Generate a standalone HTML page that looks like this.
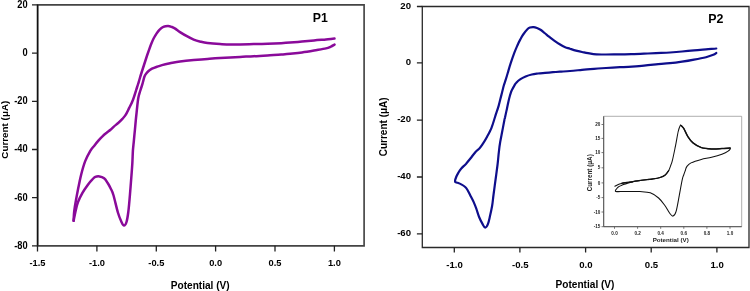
<!DOCTYPE html>
<html><head><meta charset="utf-8"><title>Cyclic voltammograms P1 and P2</title>
<style>
html,body{margin:0;padding:0;background:#fff;width:750px;height:291px;overflow:hidden;}
svg{display:block;font-family:"Liberation Sans", sans-serif;will-change:transform;}
</style></head><body>
<svg width="750" height="291" viewBox="0 0 750 291">
<path d="M37.6,4.9H364.1V245.8H37.6Z" fill="none" stroke="#444" stroke-width="1.65"/>
<path d="M37.6,4.9V245.8" fill="none" stroke="#111" stroke-width="1.4"/>
<path d="M32.0,4.9H37.6M32.0,53.1H37.6M32.0,101.3H37.6M32.0,149.5H37.6M32.0,197.6H37.6M32.0,245.8H37.6M37.5,245.8V251.4M96.9,245.8V251.4M156.3,245.8V251.4M215.6,245.8V251.4M275.0,245.8V251.4M334.4,245.8V251.4" fill="none" stroke="#222" stroke-width="1.3"/>
<path d="M422.3,6.5H749.0V247.5H422.3Z" fill="none" stroke="#2a2a2a" stroke-width="1.3"/>
<path d="M416.9,6.5H422.3M416.9,62.9H422.3M416.9,120.1H422.3M416.9,177.0H422.3M416.9,233.8H422.3M454.3,247.5V252.6M519.9,247.5V252.6M585.6,247.5V252.6M651.2,247.5V252.6M716.9,247.5V252.6" fill="none" stroke="#222" stroke-width="1.3"/>
<path d="M603.7,116.3H741.7V226.7H603.7Z" fill="none" stroke="#9a9a9a" stroke-width="0.8"/>
<path d="M603.7,116.3V226.7M603.7,226.7H741.7" fill="none" stroke="#444" stroke-width="0.9"/>
<path d="M601.5,124.5H603.7M601.5,138.4H603.7M601.5,152.6H603.7M601.5,167.8H603.7M601.5,182.9H603.7M601.5,197.6H603.7M601.5,212.0H603.7M601.5,226.7H603.7M614.5,226.7V228.8M637.6,226.7V228.8M660.7,226.7V228.8M683.8,226.7V228.8M706.9,226.7V228.8M730.0,226.7V228.8" fill="none" stroke="#555" stroke-width="0.8"/>
<path d="M334.5,38.6 C333.1,38.7 329.4,39.1 326.0,39.4 C322.6,39.7 318.0,40.0 314.0,40.4 C310.0,40.8 306.0,41.1 302.0,41.5 C298.0,41.9 293.5,42.3 290.0,42.6 C286.5,42.9 284.9,43.0 281.2,43.2 C277.4,43.4 272.1,43.6 267.5,43.7 C262.9,43.9 258.3,44.0 253.7,44.1 C249.1,44.2 243.9,44.3 240.0,44.4 C236.1,44.5 233.3,44.5 230.0,44.5 C226.7,44.5 223.8,44.3 220.0,44.1 C216.2,43.9 210.7,43.5 207.5,43.1 C204.3,42.7 202.9,42.3 200.6,41.7 C198.3,41.1 196.0,40.5 193.7,39.6 C191.4,38.7 189.2,37.5 186.9,36.2 C184.6,35.0 181.9,33.3 180.0,32.1 C178.1,30.9 176.9,29.8 175.6,28.9 C174.3,28.0 173.3,27.5 172.0,27.0 C170.7,26.5 169.4,25.9 168.0,25.9 C166.6,25.9 164.7,26.2 163.3,26.9 C161.9,27.5 160.5,28.7 159.4,29.8 C158.3,30.9 157.5,32.1 156.5,33.6 C155.5,35.1 154.6,36.6 153.6,38.5 C152.6,40.4 151.6,43.0 150.7,45.2 C149.8,47.5 149.1,49.8 148.3,52.0 C147.5,54.2 146.8,56.3 146.1,58.5 C145.4,60.7 144.7,62.8 144.0,65.0 C143.3,67.2 142.6,69.3 141.9,71.5 C141.2,73.7 140.5,75.9 139.9,78.0 C139.3,80.1 138.7,82.0 138.1,84.0 C137.5,86.0 136.8,88.0 136.2,90.0 C135.6,92.0 135.0,94.1 134.3,96.0 C133.7,97.9 133.2,99.5 132.3,101.5 C131.5,103.5 130.3,105.7 129.2,107.9 C128.1,110.1 126.9,112.9 125.8,114.7 C124.7,116.5 123.7,117.5 122.4,118.9 C121.1,120.3 119.6,121.8 118.2,123.0 C116.8,124.2 115.4,125.3 114.1,126.4 C112.8,127.5 111.8,128.7 110.5,129.8 C109.2,130.9 107.7,131.9 106.3,133.1 C104.9,134.2 103.5,135.4 102.2,136.7 C100.9,137.9 99.7,139.1 98.4,140.6 C97.1,142.1 95.8,143.7 94.5,145.4 C93.2,147.1 91.8,148.2 90.3,150.8 C88.8,153.4 86.7,157.2 85.2,161.1 C83.7,165.0 82.2,170.5 81.2,174.5 C80.2,178.5 79.8,180.8 78.9,185.0 C78.0,189.2 76.8,195.6 76.0,200.0 C75.2,204.4 74.6,208.0 74.2,211.5 C73.8,215.0 73.7,219.2 73.6,220.8" fill="none" stroke="#8a0a9a" stroke-width="2.5" stroke-linecap="round" stroke-linejoin="round"/>
<path d="M73.6,220.8 C73.9,219.2 74.9,214.1 75.6,211.0 C76.3,207.9 76.8,205.1 78.0,202.0 C79.2,198.9 80.9,195.6 82.6,192.6 C84.3,189.6 86.7,186.4 88.3,184.2 C89.9,182.0 91.0,180.8 92.2,179.6 C93.4,178.4 94.1,177.4 95.3,176.9 C96.5,176.4 98.0,176.2 99.5,176.4 C101.0,176.6 102.7,177.2 104.1,178.3 C105.5,179.4 106.6,181.3 107.7,183.0 C108.8,184.7 109.8,186.7 110.8,188.7 C111.8,190.7 112.2,191.0 113.4,195.0 C114.6,199.0 116.6,208.0 117.9,212.5 C119.2,217.0 120.5,219.8 121.5,222.0 C122.5,224.2 123.2,225.6 124.0,225.6 C124.8,225.6 125.8,224.3 126.5,222.0 C127.2,219.7 127.7,216.7 128.3,212.0 C128.9,207.3 129.5,200.2 130.0,194.0 C130.5,187.8 131.1,180.3 131.5,175.0 C131.9,169.7 132.2,166.1 132.4,162.0 C132.6,157.9 132.7,154.2 132.9,150.6 C133.2,147.0 133.6,143.7 133.9,140.3 C134.2,136.9 134.6,133.3 134.9,130.0 C135.2,126.7 135.5,123.4 135.8,120.2 C136.1,117.0 136.4,114.3 136.8,110.6 C137.2,106.9 137.7,101.3 138.3,98.0 C138.9,94.7 139.6,93.0 140.2,91.0 C140.8,89.0 141.2,87.8 141.8,86.0 C142.4,84.2 143.1,81.6 143.5,80.0 C143.9,78.4 144.1,77.5 144.5,76.5 C144.9,75.5 145.2,75.0 145.8,74.1 C146.4,73.2 147.3,72.1 148.3,71.2 C149.3,70.3 150.6,69.5 152.0,68.7 C153.4,68.0 155.3,67.3 157.0,66.7 C158.7,66.1 159.8,65.7 162.0,65.1 C164.2,64.5 167.0,63.9 170.0,63.3 C173.0,62.7 176.1,61.9 180.0,61.4 C183.9,60.9 189.1,60.4 193.7,60.0 C198.3,59.6 203.1,59.2 207.5,58.9 C211.9,58.6 214.6,58.4 220.0,58.1 C225.4,57.8 234.4,57.2 240.0,56.9 C245.6,56.6 249.1,56.5 253.7,56.2 C258.3,56.0 262.9,55.7 267.5,55.4 C272.1,55.1 277.4,54.9 281.2,54.6 C284.9,54.3 286.5,54.2 290.0,53.8 C293.5,53.4 298.0,52.9 302.0,52.4 C306.0,51.9 310.0,51.2 314.0,50.5 C318.0,49.8 323.2,49.0 326.0,48.4 C328.8,47.8 329.5,47.2 330.9,46.6 C332.3,46.0 333.9,44.9 334.5,44.6" fill="none" stroke="#8a0a9a" stroke-width="2.5" stroke-linecap="round" stroke-linejoin="round"/>
<path d="M716.3,48.5 C714.6,48.6 709.7,49.1 706.0,49.4 C702.3,49.7 698.0,50.0 694.0,50.4 C690.0,50.8 686.0,51.1 682.0,51.5 C678.0,51.9 674.3,52.2 670.0,52.5 C665.7,52.8 660.3,52.9 656.0,53.1 C651.7,53.3 648.0,53.5 644.0,53.7 C640.0,53.9 636.0,54.1 632.0,54.2 C628.0,54.3 624.3,54.4 620.0,54.4 C615.7,54.4 609.9,54.5 606.0,54.5 C602.1,54.5 599.4,54.6 596.4,54.4 C593.4,54.2 590.4,53.6 588.0,53.2 C585.6,52.8 584.0,52.4 582.0,52.0 C580.0,51.6 578.0,51.1 576.0,50.6 C574.0,50.1 571.8,49.3 570.0,48.7 C568.2,48.1 566.9,47.9 565.2,47.2 C563.5,46.5 561.5,45.4 559.7,44.3 C557.9,43.2 556.0,41.9 554.2,40.6 C552.4,39.3 550.3,37.7 548.7,36.4 C547.1,35.1 546.0,34.1 544.6,33.0 C543.2,31.9 541.8,30.6 540.5,29.8 C539.2,29.0 538.1,28.4 537.0,28.0 C535.9,27.6 534.8,27.2 533.6,27.1 C532.4,27.0 531.0,27.2 530.0,27.6 C529.0,28.0 528.5,28.2 527.4,29.3 C526.3,30.4 524.4,32.8 523.2,34.5 C522.0,36.2 521.2,37.8 520.2,39.6 C519.2,41.4 518.5,42.9 517.5,45.2 C516.5,47.5 515.3,50.2 514.2,53.2 C513.1,56.2 511.8,59.9 510.8,62.9 C509.8,65.9 509.1,68.3 508.3,71.1 C507.5,73.8 506.6,77.0 505.8,79.4 C505.1,81.8 504.5,83.0 503.8,85.5 C503.1,88.0 502.4,91.2 501.5,94.6 C500.6,97.9 499.6,102.4 498.7,105.6 C497.8,108.8 496.8,111.5 496.0,113.9 C495.2,116.3 494.9,117.7 494.1,120.0 C493.4,122.3 492.6,125.0 491.5,127.8 C490.4,130.6 488.6,133.9 487.2,136.5 C485.8,139.1 484.4,141.5 483.1,143.4 C481.8,145.3 480.9,146.8 479.6,148.2 C478.3,149.6 477.0,150.2 475.5,151.9 C474.0,153.6 472.0,156.5 470.4,158.5 C468.8,160.5 467.4,162.2 465.9,163.9 C464.3,165.6 462.4,167.2 461.1,168.7 C459.8,170.2 459.1,171.5 458.3,172.9 C457.5,174.3 456.7,175.7 456.2,177.0 C455.7,178.3 455.2,179.7 455.1,180.5 C455.0,181.3 454.9,181.6 455.3,182.0 C455.7,182.4 456.5,182.4 457.6,182.8 C458.7,183.2 460.4,183.9 461.7,184.6 C463.0,185.3 464.2,186.1 465.2,187.0 C466.2,187.9 466.7,188.7 467.5,190.0 C468.3,191.3 469.1,193.0 470.1,195.0 C471.1,197.0 472.6,199.6 473.6,201.9 C474.6,204.2 475.4,206.2 476.3,208.7 C477.2,211.2 478.1,214.5 479.1,217.0 C480.1,219.5 481.5,222.1 482.5,223.9 C483.5,225.7 484.3,227.6 485.2,227.6 C486.1,227.6 487.2,225.9 488.0,223.9 C488.8,221.9 489.4,218.6 490.1,215.6 C490.8,212.6 491.5,209.4 492.1,206.0 C492.7,202.6 492.9,199.3 493.5,195.0 C494.1,190.7 494.8,185.0 495.5,180.0 C496.2,175.0 496.9,169.7 497.5,165.0 C498.1,160.3 498.4,155.4 498.9,151.6 C499.3,147.8 499.6,145.4 500.2,142.0 C500.8,138.6 501.6,134.7 502.3,131.0 C503.0,127.3 504.0,122.2 504.4,120.0 C504.8,117.8 504.5,119.9 504.9,118.0 C505.3,116.1 506.3,111.6 507.0,108.4 C507.7,105.2 508.4,101.5 509.1,98.7 C509.8,96.0 510.6,93.4 511.1,91.9 C511.6,90.4 511.7,90.5 512.2,89.5 C512.7,88.5 513.5,86.9 514.2,85.8 C514.9,84.7 515.2,83.8 516.3,82.7 C517.3,81.6 519.0,80.1 520.5,79.1 C522.0,78.1 523.7,77.3 525.6,76.5 C527.5,75.7 529.7,75.0 531.8,74.5 C533.9,74.0 535.8,73.8 538.0,73.5 C540.2,73.2 542.5,73.1 545.0,72.9 C547.5,72.7 550.5,72.4 553.0,72.2 C555.5,72.0 557.2,71.9 560.0,71.7 C562.8,71.5 566.3,71.3 570.0,71.0 C573.7,70.7 578.0,70.2 582.0,69.8 C586.0,69.4 590.0,69.1 594.0,68.8 C598.0,68.5 601.7,68.3 606.0,68.0 C610.3,67.7 615.7,67.4 620.0,67.2 C624.3,67.0 628.0,66.9 632.0,66.6 C636.0,66.3 640.0,66.0 644.0,65.6 C648.0,65.2 651.7,64.8 656.0,64.4 C660.3,64.0 665.7,63.7 670.0,63.2 C674.3,62.8 678.0,62.3 682.0,61.7 C686.0,61.1 690.0,60.4 694.0,59.6 C698.0,58.9 702.8,58.0 706.0,57.2 C709.2,56.4 711.6,55.5 713.3,54.8 C715.0,54.1 715.8,53.3 716.3,53.0" fill="none" stroke="#0e0e8c" stroke-width="2.2" stroke-linecap="round" stroke-linejoin="round"/>
<path d="M614.9,186.2 C615.5,185.9 617.2,184.9 618.3,184.4 C619.4,183.9 620.6,183.6 621.7,183.3 C622.9,183.0 624.1,182.9 625.2,182.7 C626.4,182.5 627.2,182.5 628.6,182.3 C630.0,182.1 631.5,181.8 633.8,181.4 C636.1,181.1 639.9,180.5 642.3,180.2 C644.7,179.9 646.3,179.7 648.0,179.5 C649.7,179.3 650.4,179.3 652.4,179.0 C654.4,178.7 658.0,178.2 660.1,177.5 C662.2,176.8 663.9,176.1 665.3,174.9 C666.7,173.8 667.8,172.2 668.7,170.6 C669.6,168.9 670.3,166.7 670.9,165.0 C671.5,163.3 671.6,163.6 672.4,160.4 C673.2,157.2 674.5,150.7 675.5,145.9 C676.5,141.1 677.4,134.9 678.2,131.5 C679.1,128.1 679.7,125.8 680.6,125.3 C681.5,124.8 682.5,126.5 683.7,128.4 C684.9,130.3 686.4,134.3 687.9,136.7 C689.4,139.1 690.8,141.1 693.0,142.9 C695.2,144.7 698.2,146.6 701.3,147.6 C704.4,148.6 708.2,148.8 711.6,149.0 C715.0,149.2 718.8,148.8 721.9,148.6 C725.0,148.4 729.1,147.6 730.1,148.0 C731.1,148.4 729.5,150.1 728.1,151.1 C726.7,152.1 724.6,153.2 721.9,154.2 C719.1,155.2 715.0,156.4 711.6,157.3 C708.2,158.2 704.7,158.5 701.3,159.4 C697.9,160.3 693.4,161.7 691.0,162.9 C688.6,164.1 687.7,165.4 686.8,166.6 C685.9,167.8 685.9,168.8 685.4,170.2 C684.9,171.6 684.2,173.5 683.7,175.0 C683.2,176.5 683.0,175.9 682.3,179.4 C681.5,182.9 680.2,190.6 679.2,195.9 C678.2,201.2 677.1,208.0 676.1,211.4 C675.1,214.8 674.0,215.8 673.0,216.1 C672.0,216.4 671.3,215.3 669.9,213.5 C668.5,211.7 666.6,207.8 664.7,205.2 C662.8,202.6 661.0,200.1 658.6,198.0 C656.2,195.9 653.4,193.9 650.3,192.8 C647.2,191.7 643.0,191.8 640.0,191.6 C637.0,191.4 634.5,191.5 632.0,191.5 C629.5,191.5 627.5,191.5 625.2,191.5 C622.9,191.5 619.6,191.6 618.0,191.6 C616.4,191.6 615.8,191.7 615.4,191.4 C615.0,191.1 615.6,190.2 615.8,189.8 C616.0,189.4 616.2,189.3 616.6,188.8 C617.0,188.3 617.4,187.6 618.3,187.0 C619.1,186.4 620.6,185.8 621.7,185.3 C622.9,184.8 624.1,184.4 625.2,184.0 C626.4,183.6 627.3,183.2 628.6,182.9 C629.9,182.6 632.3,182.1 633.0,181.9" fill="none" stroke="#111" stroke-width="1.05" stroke-linecap="round" stroke-linejoin="round"/>
<path d="M680.6,125.3 C681.1,125.8 682.5,126.5 683.7,128.4 C684.9,130.3 686.4,134.3 687.9,136.7 C689.4,139.1 690.8,141.1 693.0,142.9 C695.2,144.7 698.2,146.6 701.3,147.6 C704.4,148.6 708.2,148.8 711.6,149.0 C715.0,149.2 718.8,148.8 721.9,148.6 C725.0,148.4 728.7,148.1 730.1,148.0" fill="none" stroke="#111" stroke-width="1.5" stroke-linecap="round" stroke-linejoin="round"/>
<path d="M621.7,183.3 C622.3,183.2 624.1,182.9 625.2,182.7 C626.4,182.5 627.2,182.5 628.6,182.3 C630.0,182.1 631.5,181.8 633.8,181.4 C636.1,181.1 639.9,180.5 642.3,180.2 C644.7,179.9 646.3,179.7 648.0,179.5 C649.7,179.3 650.4,179.3 652.4,179.0 C654.4,178.7 658.0,178.2 660.1,177.5 C662.2,176.8 663.9,176.1 665.3,174.9 C666.7,173.8 668.1,171.3 668.7,170.6" fill="none" stroke="#111" stroke-width="1.3" stroke-linecap="round" stroke-linejoin="round"/>
<text transform="translate(27.60,7.80) scale(0.930,1)" font-size="10.00" text-anchor="end" font-family="Liberation Sans" font-weight="bold" >20</text>
<text transform="translate(27.60,56.00) scale(0.930,1)" font-size="10.00" text-anchor="end" font-family="Liberation Sans" font-weight="bold" >0</text>
<text transform="translate(27.60,104.20) scale(0.930,1)" font-size="10.00" text-anchor="end" font-family="Liberation Sans" font-weight="bold" >-20</text>
<text transform="translate(27.60,152.40) scale(0.930,1)" font-size="10.00" text-anchor="end" font-family="Liberation Sans" font-weight="bold" >-40</text>
<text transform="translate(27.60,200.50) scale(0.930,1)" font-size="10.00" text-anchor="end" font-family="Liberation Sans" font-weight="bold" >-60</text>
<text transform="translate(27.60,248.70) scale(0.930,1)" font-size="10.00" text-anchor="end" font-family="Liberation Sans" font-weight="bold" >-80</text>
<text transform="translate(37.50,266.00) scale(0.970,1)" font-size="9.60" text-anchor="middle" font-family="Liberation Sans" font-weight="bold" >-1.5</text>
<text transform="translate(96.90,266.00) scale(0.970,1)" font-size="9.60" text-anchor="middle" font-family="Liberation Sans" font-weight="bold" >-1.0</text>
<text transform="translate(156.30,266.00) scale(0.970,1)" font-size="9.60" text-anchor="middle" font-family="Liberation Sans" font-weight="bold" >-0.5</text>
<text transform="translate(215.60,266.00) scale(0.970,1)" font-size="9.60" text-anchor="middle" font-family="Liberation Sans" font-weight="bold" >0.0</text>
<text transform="translate(275.00,266.00) scale(0.970,1)" font-size="9.60" text-anchor="middle" font-family="Liberation Sans" font-weight="bold" >0.5</text>
<text transform="translate(334.40,266.00) scale(0.970,1)" font-size="9.60" text-anchor="middle" font-family="Liberation Sans" font-weight="bold" >1.0</text>
<text transform="translate(200.20,288.80) scale(1.000,1)" font-size="10.10" text-anchor="middle" font-family="Liberation Sans" font-weight="bold" >Potential (V)</text>
<text transform="translate(7.60,129.70) rotate(-90)" font-size="9.85" text-anchor="middle" font-family="Liberation Sans" font-weight="bold">Current (μA)</text>
<text transform="translate(312.70,22.40) scale(0.960,1)" font-size="12.80" text-anchor="start" font-family="Liberation Sans" font-weight="bold" >P1</text>
<text transform="translate(411.00,8.50) scale(1.000,1)" font-size="9.60" text-anchor="end" font-family="Liberation Sans" font-weight="bold" >20</text>
<text transform="translate(411.00,64.90) scale(1.000,1)" font-size="9.60" text-anchor="end" font-family="Liberation Sans" font-weight="bold" >0</text>
<text transform="translate(411.00,122.10) scale(1.000,1)" font-size="9.60" text-anchor="end" font-family="Liberation Sans" font-weight="bold" >-20</text>
<text transform="translate(411.00,179.00) scale(1.000,1)" font-size="9.60" text-anchor="end" font-family="Liberation Sans" font-weight="bold" >-40</text>
<text transform="translate(411.00,235.75) scale(1.000,1)" font-size="9.60" text-anchor="end" font-family="Liberation Sans" font-weight="bold" >-60</text>
<text transform="translate(454.60,268.00) scale(1.000,1)" font-size="9.60" text-anchor="middle" font-family="Liberation Sans" font-weight="bold" >-1.0</text>
<text transform="translate(520.20,268.00) scale(1.000,1)" font-size="9.60" text-anchor="middle" font-family="Liberation Sans" font-weight="bold" >-0.5</text>
<text transform="translate(585.90,268.00) scale(1.000,1)" font-size="9.60" text-anchor="middle" font-family="Liberation Sans" font-weight="bold" >0.0</text>
<text transform="translate(651.50,268.00) scale(1.000,1)" font-size="9.60" text-anchor="middle" font-family="Liberation Sans" font-weight="bold" >0.5</text>
<text transform="translate(717.20,268.00) scale(1.000,1)" font-size="9.60" text-anchor="middle" font-family="Liberation Sans" font-weight="bold" >1.0</text>
<text transform="translate(585.00,288.40) scale(1.000,1)" font-size="10.10" text-anchor="middle" font-family="Liberation Sans" font-weight="bold" >Potential (V)</text>
<text transform="translate(387.00,126.80) rotate(-90)" font-size="10.00" text-anchor="middle" font-family="Liberation Sans" font-weight="bold">Current (μA)</text>
<text transform="translate(708.20,22.70) scale(0.970,1)" font-size="12.80" text-anchor="start" font-family="Liberation Sans" font-weight="bold" >P2</text>
<text x="600.3" y="126.1" font-size="4.6" text-anchor="end" font-family="Liberation Sans" font-weight="bold" fill="#222">20</text>
<text x="600.3" y="140.0" font-size="4.6" text-anchor="end" font-family="Liberation Sans" font-weight="bold" fill="#222">15</text>
<text x="600.3" y="154.2" font-size="4.6" text-anchor="end" font-family="Liberation Sans" font-weight="bold" fill="#222">10</text>
<text x="600.3" y="169.4" font-size="4.6" text-anchor="end" font-family="Liberation Sans" font-weight="bold" fill="#222">5</text>
<text x="600.3" y="184.5" font-size="4.6" text-anchor="end" font-family="Liberation Sans" font-weight="bold" fill="#222">0</text>
<text x="600.3" y="199.2" font-size="4.6" text-anchor="end" font-family="Liberation Sans" font-weight="bold" fill="#222">-5</text>
<text x="600.3" y="213.6" font-size="4.6" text-anchor="end" font-family="Liberation Sans" font-weight="bold" fill="#222">-10</text>
<text x="600.3" y="228.3" font-size="4.6" text-anchor="end" font-family="Liberation Sans" font-weight="bold" fill="#222">-15</text>
<text x="614.5" y="235.3" font-size="4.6" text-anchor="middle" font-family="Liberation Sans" font-weight="bold" fill="#222">0.0</text>
<text x="637.6" y="235.3" font-size="4.6" text-anchor="middle" font-family="Liberation Sans" font-weight="bold" fill="#222">0.2</text>
<text x="660.7" y="235.3" font-size="4.6" text-anchor="middle" font-family="Liberation Sans" font-weight="bold" fill="#222">0.4</text>
<text x="683.8" y="235.3" font-size="4.6" text-anchor="middle" font-family="Liberation Sans" font-weight="bold" fill="#222">0.6</text>
<text x="706.9" y="235.3" font-size="4.6" text-anchor="middle" font-family="Liberation Sans" font-weight="bold" fill="#222">0.8</text>
<text x="730.0" y="235.3" font-size="4.6" text-anchor="middle" font-family="Liberation Sans" font-weight="bold" fill="#222">1.0</text>
<text x="670.7" y="242" font-size="6.2" text-anchor="middle" font-family="Liberation Sans" font-weight="bold" fill="#222">Potential (V)</text>
<text transform="translate(591.9,172.8) rotate(-90)" font-size="6.3" text-anchor="middle" font-family="Liberation Sans" font-weight="bold" fill="#222">Current (μA)</text>
</svg>
</body></html>
